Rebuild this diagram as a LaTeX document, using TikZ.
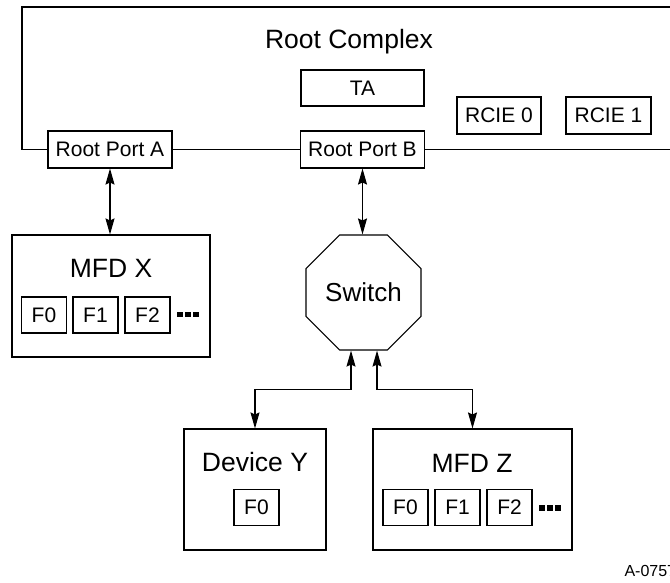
\documentclass[tikz,border=0pt]{standalone}
\usepackage{fontspec}
\setmainfont{Liberation Sans}
\usetikzlibrary{arrows.meta,shapes.geometric,calc}
\begin{document}
\begin{tikzpicture}[x=1pt,y=-1pt,line width=1.1pt,
  >={Stealth[length=16pt,width=9pt,inset=2pt]},
  port/.style={draw,fill=white,inner sep=0pt,minimum width=124pt,minimum height=37pt,
    font=\fontsize{21}{24}\selectfont},
  fbox/.style={draw,inner sep=0pt,minimum width=45pt,minimum height=36pt,
    font=\fontsize{21}{24}\selectfont},
  dev/.style={draw,inner sep=0pt,minimum height=121pt},
  title/.style={inner sep=0pt,font=\fontsize{26.5}{30}\selectfont}]
 \useasboundingbox (0,0) rectangle (670,582);
 \coordinate (tl) at (22,7); \coordinate (tr) at (700,7); \coordinate (br) at (700,149.5);
 \node[title] (rc) at (349,42) {Root Complex};
 \node[port,minimum width=123pt,minimum height=36pt] (ta) at (362.5,88) {TA};
 \node[port,minimum width=84pt] (rcie0) at (499,115.5) {RCIE 0};
 \node[port,minimum width=85pt] (rcie1) at (608.5,115.5) {RCIE 1};
 \node[port] (rpa) at (110,149.5) {Root Port A};
 \node[port] (rpb) at (362.5,149.5) {Root Port B};
 \draw (tr) -- (tl) |- (rpa.west);
 \draw (rpa) -- (rpb); \draw (rpb.east) -- (br);
 \node[dev,minimum width=198pt,minimum height=122pt] (mfdx) at (111,296) {};
 \node[title] (mfdxt) at (111,268) {MFD X};
 \node[fbox] (x0) at (44,315) {F0};
 \node[fbox] (x1) at (95.5,315) {F1};
 \node[fbox] (x2) at (147.5,315) {F2};
 \foreach \i in {0,1,2} \fill (177+\i*8,311.5) rectangle ++(5.5,5.5);
 \node[draw,fill=white,regular polygon,regular polygon sides=8,minimum size=124.5pt,
   inner sep=0pt,font=\fontsize{26}{30}\selectfont] (sw) at (363.5,292.5) {Switch};
 \node[dev,minimum width=142pt] (devy) at (255,489.5) {};
 \node[title] (devyt) at (255,462) {Device Y};
 \node[fbox] (y0) at (256.5,507.5) {F0};
 \node[dev,minimum width=199pt] (mfdz) at (472.5,489.5) {};
 \node[title] (mfdzt) at (472,463) {MFD Z};
 \node[fbox] (z0) at (405.5,507.5) {F0};
 \node[fbox] (z1) at (457.5,507.5) {F1};
 \node[fbox] (z2) at (509.5,507.5) {F2};
 \foreach \i in {0,1,2} \fill (539+\i*8,505) rectangle ++(5.5,5.5);
 \draw[<->] (rpa.south) -- (rpa.south |- mfdx.north);
 \draw[<->] (rpb.south) -- (rpb.south |- sw.north);
 \draw[<->] ($(sw.south)+(-12.5,0)$) -- ++(0,39) -| (devy.north);
 \draw[<->] ($(sw.south)+(13.5,0)$) -- ++(0,39) -| (mfdz.north);
 \node[inner sep=0pt,anchor=west,font=\fontsize{16}{18}\selectfont] (fig) at (624,571) {A-0757};
\end{tikzpicture}
\end{document}
